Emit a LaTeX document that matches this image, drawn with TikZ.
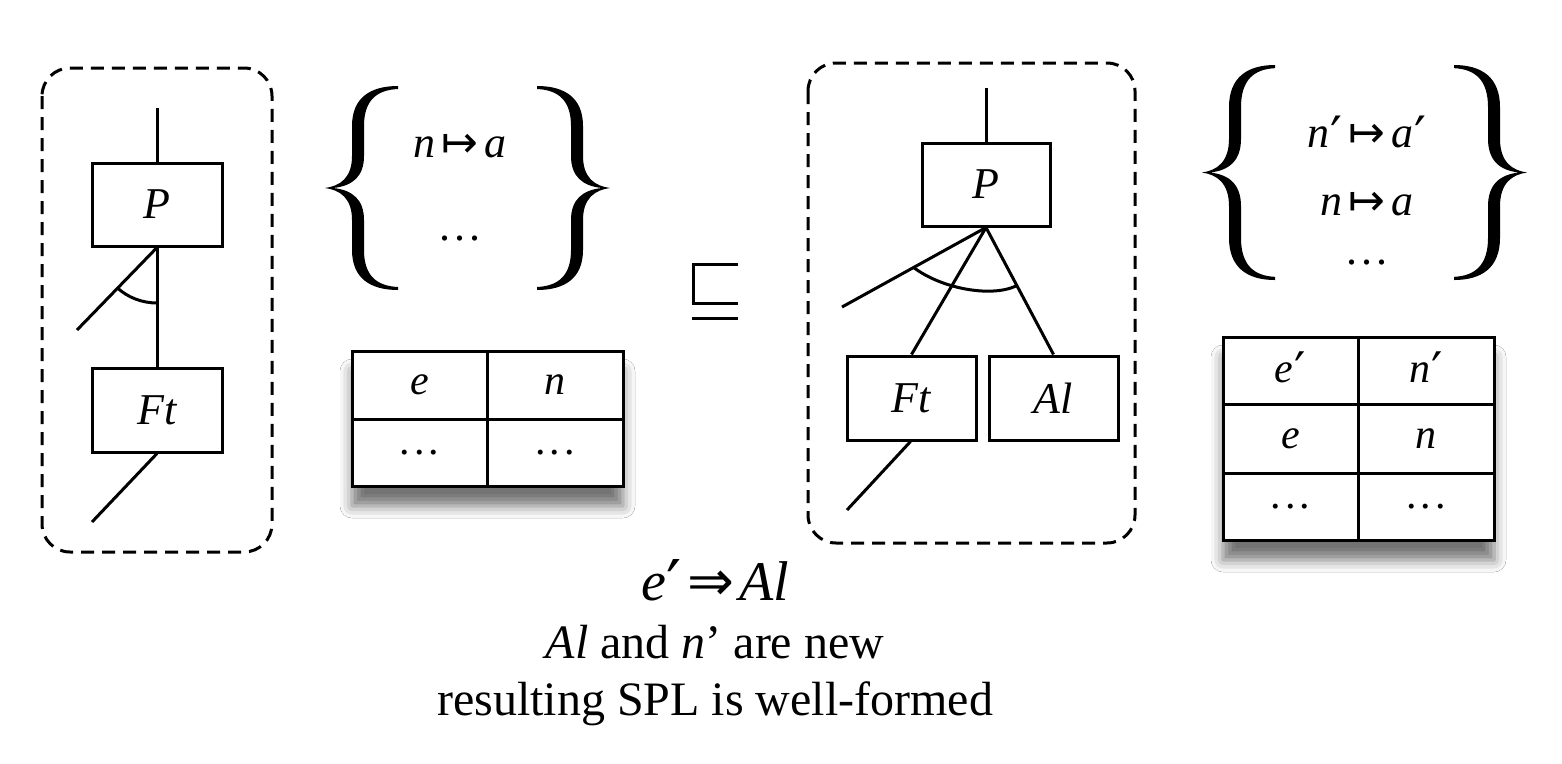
\documentclass[tikz,border=0pt]{standalone}
\usepackage{fontspec}
\setmainfont{Liberation Serif}
\newfontfamily\symf{DejaVu Sans}
\usetikzlibrary{shadows.blur}
\newcommand{\fsz}[1]{\fontsize{#1}{#1}\selectfont}
\newcommand{\pr}{{\upshape\kern1pt\raisebox{-0.16em}{\scalebox{1.2}{\symf\char"2032}}}}
\newcommand{\mto}{\kern6pt{\upshape\symf\char"21A6}\kern6pt}
\newcommand{\imp}{\kern5pt{\upshape\symf\char"21D2}\kern5pt}
\newcommand{\dts}{{\upshape.\kern4pt.\kern4pt.}}
\begin{document}
\begin{tikzpicture}[x=1pt,y=-1pt,
  line width=3pt,
  featbox/.style={draw, rectangle, minimum width=130pt, minimum height=83pt, inner sep=0pt, font=\fsz{44}\itshape},
  cell/.style={draw, rectangle, inner sep=0pt, font=\fsz{42}\itshape},
  tablebox/.style={draw, rectangle, fill=white, inner sep=0pt,
    blur shadow={shadow xshift=0pt, shadow yshift=-20pt, shadow blur radius=12pt, shadow opacity=55}},
  dashbox/.style={draw, dash pattern=on 13pt off 8pt, rounded corners=28pt},
  maptext/.style={anchor=base, inner sep=0pt, font=\fsz{44}},
  botline/.style={anchor=base, inner sep=0pt, font=\fsz{48}},
  bracepic/.pic={
    \fill (73,0) .. controls (45,0) and (27,12) .. (27,40) -- (27,70)
      .. controls (27,92) and (15,100) .. (0,102)
      .. controls (15,104) and (27,112) .. (27,134) -- (27,164)
      .. controls (27,192) and (45,204) .. (73,204) -- (73,201)
      .. controls (52,200) and (39,190) .. (39,164) -- (39,134)
      .. controls (39,114) and (28,104) .. (8,102)
      .. controls (28,100) and (39,90) .. (39,70) -- (39,40)
      .. controls (39,14) and (52,4) .. (73,3) -- cycle;
  }]
\useasboundingbox (0,0) rectangle (1562,763);
\fill[white] (0,0) rectangle (1562,763);

% ---------- left tree ----------
\draw[dashbox] (42,68) rectangle (272,552);
\node[featbox] (P1) at (157,204.5) {P};
\node[featbox, minimum height=84pt] (Ft1) at (157,410) {Ft};
\coordinate (t1) at (157,108);
\coordinate (d1) at (77,330);
\coordinate (b1) at (92,522);
\draw (t1) -- (P1.north);
\draw (P1.south) -- (Ft1.north);
\draw (P1.south) -- (d1);
\draw (Ft1.south) -- (b1);
\draw (117,287.5) .. controls (127.5,297.4) and (142,303) .. (157,303);

% ---------- left braces ----------
\pic at (325,86) {bracepic};
\pic[xscale=-1] at (610,86) {bracepic};
\node[maptext] (m1) at (460,157) {\textit{n}\mto\textit{a}};
\node[maptext] (m1d) at (460,240) {\dts};

% ---------- left table ----------
\node[tablebox, minimum width=271pt, minimum height=135pt] (T1) at (487.5,418.5) {};
\node[cell, minimum width=135pt, minimum height=68pt] (T1a) at (419.5,385) {e};
\node[cell, minimum width=136pt, minimum height=68pt] (T1b) at (555,385) {n};
\node[cell, minimum width=135pt, minimum height=67pt] (T1c) at (419.5,452.5) {\dts};
\node[cell, minimum width=136pt, minimum height=67pt] (T1d) at (555,452.5) {\dts};

% ---------- sqsubseteq ----------
\draw (738,264) -- (693,264) -- (693,303) -- (738,303);
\draw (692,318) -- (738,318);

% ---------- right tree ----------
\draw[dashbox] (808,63) rectangle (1135,543);
\node[featbox, minimum width=128pt] (P2) at (986,184.5) {P};
\node[featbox, minimum width=129pt, minimum height=84pt] (Ft2) at (911.5,398) {Ft};
\node[featbox, minimum width=129pt, minimum height=84pt] (Al2) at (1053.5,398) {Al};
\coordinate (t2) at (986,88);
\coordinate (d2) at (842,307);
\coordinate (b2) at (847,510);
\draw (t2) -- (P2.north);
\draw (P2.south) -- (Ft2.north);
\draw (P2.south) -- (Al2.north);
\draw (P2.south) -- (d2);
\draw ([xshift=-1pt]Ft2.south) -- (b2);
\draw (913,267) .. controls (940,288) and (990,298) .. (1016,286);

% ---------- right braces ----------
\pic[yscale=1.054] at (1202,65) {bracepic};
\pic[xscale=-1, yscale=1.054] at (1527,65) {bracepic};
\node[maptext] (m2) at (1367,147) {\textit{n}\pr\mto\textit{a}\pr};
\node[maptext] (m3) at (1367,215) {\textit{n}\mto\textit{a}};
\node[maptext] (m3d) at (1367,264) {\dts};

% ---------- right table ----------
\node[tablebox, minimum width=271pt, minimum height=203pt] (T2) at (1358.5,438.5) {};
\node[cell, minimum width=135pt, minimum height=67pt] (T2a) at (1290.5,370.5) {e\pr};
\node[cell, minimum width=136pt, minimum height=67pt] (T2b) at (1426,370.5) {n\pr};
\node[cell, minimum width=135pt, minimum height=69pt] (T2c) at (1290.5,438.5) {e};
\node[cell, minimum width=136pt, minimum height=69pt] (T2d) at (1426,438.5) {n};
\node[cell, minimum width=135pt, minimum height=67pt] (T2e) at (1290.5,506.5) {\dts};
\node[cell, minimum width=136pt, minimum height=67pt] (T2f) at (1426,506.5) {\dts};

% ---------- bottom text ----------
\node[botline, font=\fsz{56}] (l1) at (715,600) {\textit{e}\pr\imp\textit{Al}};
\node[botline] (l2) at (715,658) {\textit{Al} and \textit{n}{\char"27} are new};
\node[botline] (l3) at (715,715) {resulting SPL is well-formed};
\end{tikzpicture}
\end{document}
